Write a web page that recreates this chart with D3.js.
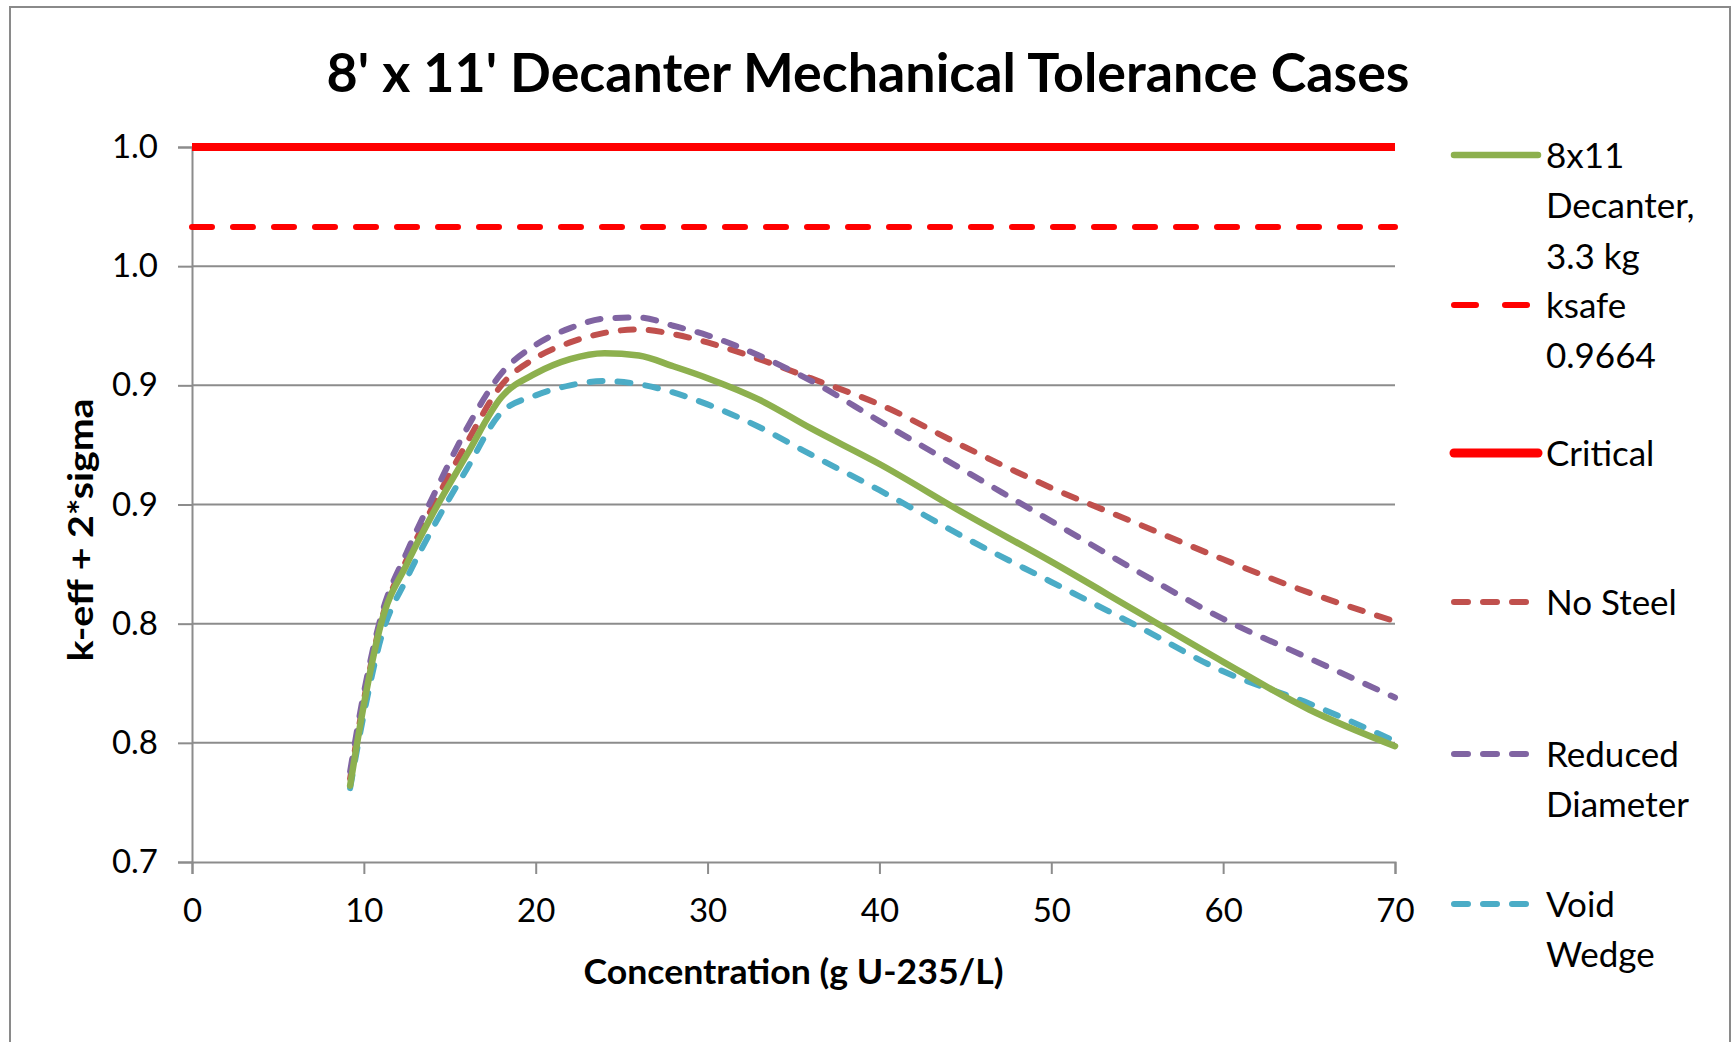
<!DOCTYPE html>
<html>
<head>
<meta charset="utf-8">
<script src="https://cdn.jsdelivr.net/npm/d3@7/dist/d3.min.js"></script>
<style>
  html, body { margin: 0; padding: 0; background: #fff; overflow: hidden; }
  svg { display: block; }
  text { font-family: Lato, "Open Sans", sans-serif; fill: #000; }
</style>
</head>
<body>
<svg id="chart" width="1733" height="1042"></svg>
<script>
// ---------------- data ----------------
const concentration = [9.2, 10, 11, 12.5, 14, 16, 18, 20, 22, 24, 26, 28, 30, 33, 36, 40, 45, 50, 55, 60, 65, 70];
const decanter8x11 = [0.732, 0.766, 0.800, 0.825, 0.846, 0.871, 0.895, 0.905, 0.911, 0.9135, 0.9125, 0.908, 0.903, 0.894, 0.882, 0.867, 0.846, 0.826, 0.805, 0.784, 0.764, 0.7486];
const noSteel = [0.735, 0.768, 0.801, 0.827, 0.849, 0.876, 0.900, 0.9115, 0.918, 0.922, 0.9235, 0.9215, 0.918, 0.911, 0.903, 0.892, 0.874, 0.857, 0.842, 0.827, 0.813, 0.801];
const reducedDiameter = [0.738, 0.771, 0.803, 0.830, 0.853, 0.882, 0.905, 0.917, 0.924, 0.928, 0.9285, 0.925, 0.921, 0.9125, 0.902, 0.885, 0.864, 0.843, 0.822, 0.802, 0.7855, 0.769];
const voidWedge = [0.731, 0.762, 0.794, 0.819, 0.840, 0.865, 0.8886, 0.8958, 0.900, 0.9018, 0.9005, 0.897, 0.892, 0.8825, 0.871, 0.856, 0.836, 0.8175, 0.799, 0.780, 0.7665, 0.7507];
const criticalK = 1.0;
const ksafeK = 0.9664;
const xRange = [0, 70];
const xTicks = [0, 10, 20, 30, 40, 50, 60, 70];
const yTicks = [0.70, 0.75, 0.80, 0.85, 0.90, 0.95, 1.00];
const yTickLabels = ["0.7", "0.8", "0.8", "0.9", "0.9", "1.0", "1.0"];
const titleText = "8' x 11' Decanter Mechanical Tolerance Cases";
const xLabelText = "Concentration (g U-235/L)";
const yLabelText = "k-eff + 2*sigma";

// ---------------- layout ----------------
const svg = d3.select("#chart");
const plot = { left: 192, right: 1395, top: 147, bottom: 862 };
const x = d3.scaleLinear().domain([0, 70]).range([plot.left, plot.right]);
const y = d3.scaleLinear().domain([0.7, 1.0]).range([plot.bottom, plot.top]);
const gridColor = "#8c8c8c";

// chart frame
svg.append("rect").attr("x", 10).attr("y", 7).attr("width", 1720).attr("height", 1060)
  .attr("fill", "#fff").attr("stroke", "#8a8a8a").attr("stroke-width", 2);

// title
svg.append("text").attr("x", 868).attr("y", 92).attr("text-anchor", "middle")
  .attr("font-size", 53).attr("font-weight", 700)
  .attr("textLength", 1083).attr("lengthAdjust", "spacingAndGlyphs")
  .text(titleText);

// gridlines
svg.append("g").selectAll("line").data(yTicks.filter(v => v > 0.7)).join("line")
  .attr("x1", plot.left).attr("x2", plot.right)
  .attr("y1", d => y(d)).attr("y2", d => y(d))
  .attr("stroke", gridColor).attr("stroke-width", 2);

// y axis
const yAxis = d3.axisLeft(y).tickValues(yTicks)
  .tickFormat((d, i) => yTickLabels[i]).tickSize(14).tickPadding(20);
const gy = svg.append("g").attr("transform", `translate(${plot.left},0)`).call(yAxis);
gy.select(".domain").attr("stroke", gridColor).attr("stroke-width", 2);
gy.selectAll(".tick line").attr("stroke", gridColor).attr("stroke-width", 2);
gy.selectAll(".tick text").attr("font-size", 33).attr("font-family", "Lato, sans-serif").attr("fill", "#000");

// x axis
const xAxis = d3.axisBottom(x).tickValues(xTicks).tickFormat(d3.format("d")).tickSize(12).tickPadding(25);
const gx = svg.append("g").attr("transform", `translate(0,${plot.bottom})`).call(xAxis);
gx.select(".domain").attr("stroke", gridColor).attr("stroke-width", 2);
gx.selectAll(".tick line").attr("stroke", gridColor).attr("stroke-width", 2);
gx.selectAll(".tick text").attr("font-size", 33).attr("font-family", "Lato, sans-serif").attr("fill", "#000");

// axis labels
svg.append("text").attr("x", (plot.left + plot.right) / 2).attr("y", 984).attr("text-anchor", "middle")
  .attr("font-size", 34).attr("font-weight", 700)
  .attr("textLength", 420).attr("lengthAdjust", "spacingAndGlyphs")
  .text(xLabelText);
svg.append("text").attr("transform", "translate(93,530) rotate(-90)").attr("text-anchor", "middle")
  .attr("font-size", 34).attr("font-weight", 700)
  .attr("textLength", 263).attr("lengthAdjust", "spacingAndGlyphs")
  .text(yLabelText);

// series
const line = d3.line().x(d => x(d[0])).y(d => y(d[1])).curve(d3.curveMonotoneX);
const series = [
  { name: "8x11 Decanter, 3.3 kg", values: decanter8x11, color: "#8db04e", width: 6.5, dash: null },
  { name: "No Steel", values: noSteel, color: "#c0504d", width: 6, dash: "13,15" },
  { name: "Reduced Diameter", values: reducedDiameter, color: "#8064a2", width: 6, dash: "13,15" },
  { name: "Void Wedge", values: voidWedge, color: "#4bacc6", width: 6, dash: "13,15" }
];
const drawOrder = [1, 2, 3, 0];

// reference lines
svg.append("path").datum(xRange.map(c => [c, ksafeK]))
  .attr("d", d3.line().x(d => x(d[0])).y(d => y(d[1])))
  .attr("fill", "none").attr("stroke", "#ff0000").attr("stroke-width", 6)
  .attr("stroke-dasharray", "20,21").attr("stroke-linecap", "round");
svg.append("path").datum(xRange.map(c => [c, criticalK]))
  .attr("d", d3.line().x(d => x(d[0])).y(d => y(d[1])))
  .attr("fill", "none").attr("stroke", "#ff0000").attr("stroke-width", 8);

drawOrder.forEach(i => {
  const s = series[i];
  svg.append("path").datum(concentration.map((c, j) => [c, s.values[j]]))
    .attr("d", line).attr("fill", "none")
    .attr("stroke", s.color).attr("stroke-width", s.width)
    .attr("stroke-linecap", "round").attr("stroke-linejoin", "round")
    .attr("stroke-dasharray", s.dash);
});

// legend
const legendItems = [
  { lines: ["8x11", "Decanter,", "3.3 kg"], color: "#8db04e", width: 6.5, dash: null },
  { lines: ["ksafe", "0.9664"], color: "#ff0000", width: 6, dash: "22,29" },
  { lines: ["Critical"], color: "#ff0000", width: 9, dash: null },
  { lines: ["No Steel"], color: "#c0504d", width: 6, dash: "14,15" },
  { lines: ["Reduced", "Diameter"], color: "#8064a2", width: 6, dash: "14,15" },
  { lines: ["Void", "Wedge"], color: "#4bacc6", width: 6, dash: "14,15" }
];
const legendY = [155, 305, 453, 602, 754, 904];
const legendFont = 35;
const lineStep = 50.5;
legendItems.forEach((item, i) => {
  const cy = legendY[i];
  svg.append("line").attr("x1", 1454).attr("x2", 1538).attr("y1", cy).attr("y2", cy)
    .attr("stroke", item.color).attr("stroke-width", item.width)
    .attr("stroke-linecap", "round").attr("stroke-dasharray", item.dash);
  item.lines.forEach((t, k) => {
    svg.append("text").attr("x", 1546).attr("y", cy + k * lineStep + 0.36 * legendFont)
      .attr("font-size", legendFont).text(t);
  });
});
</script>
</body>
</html>
